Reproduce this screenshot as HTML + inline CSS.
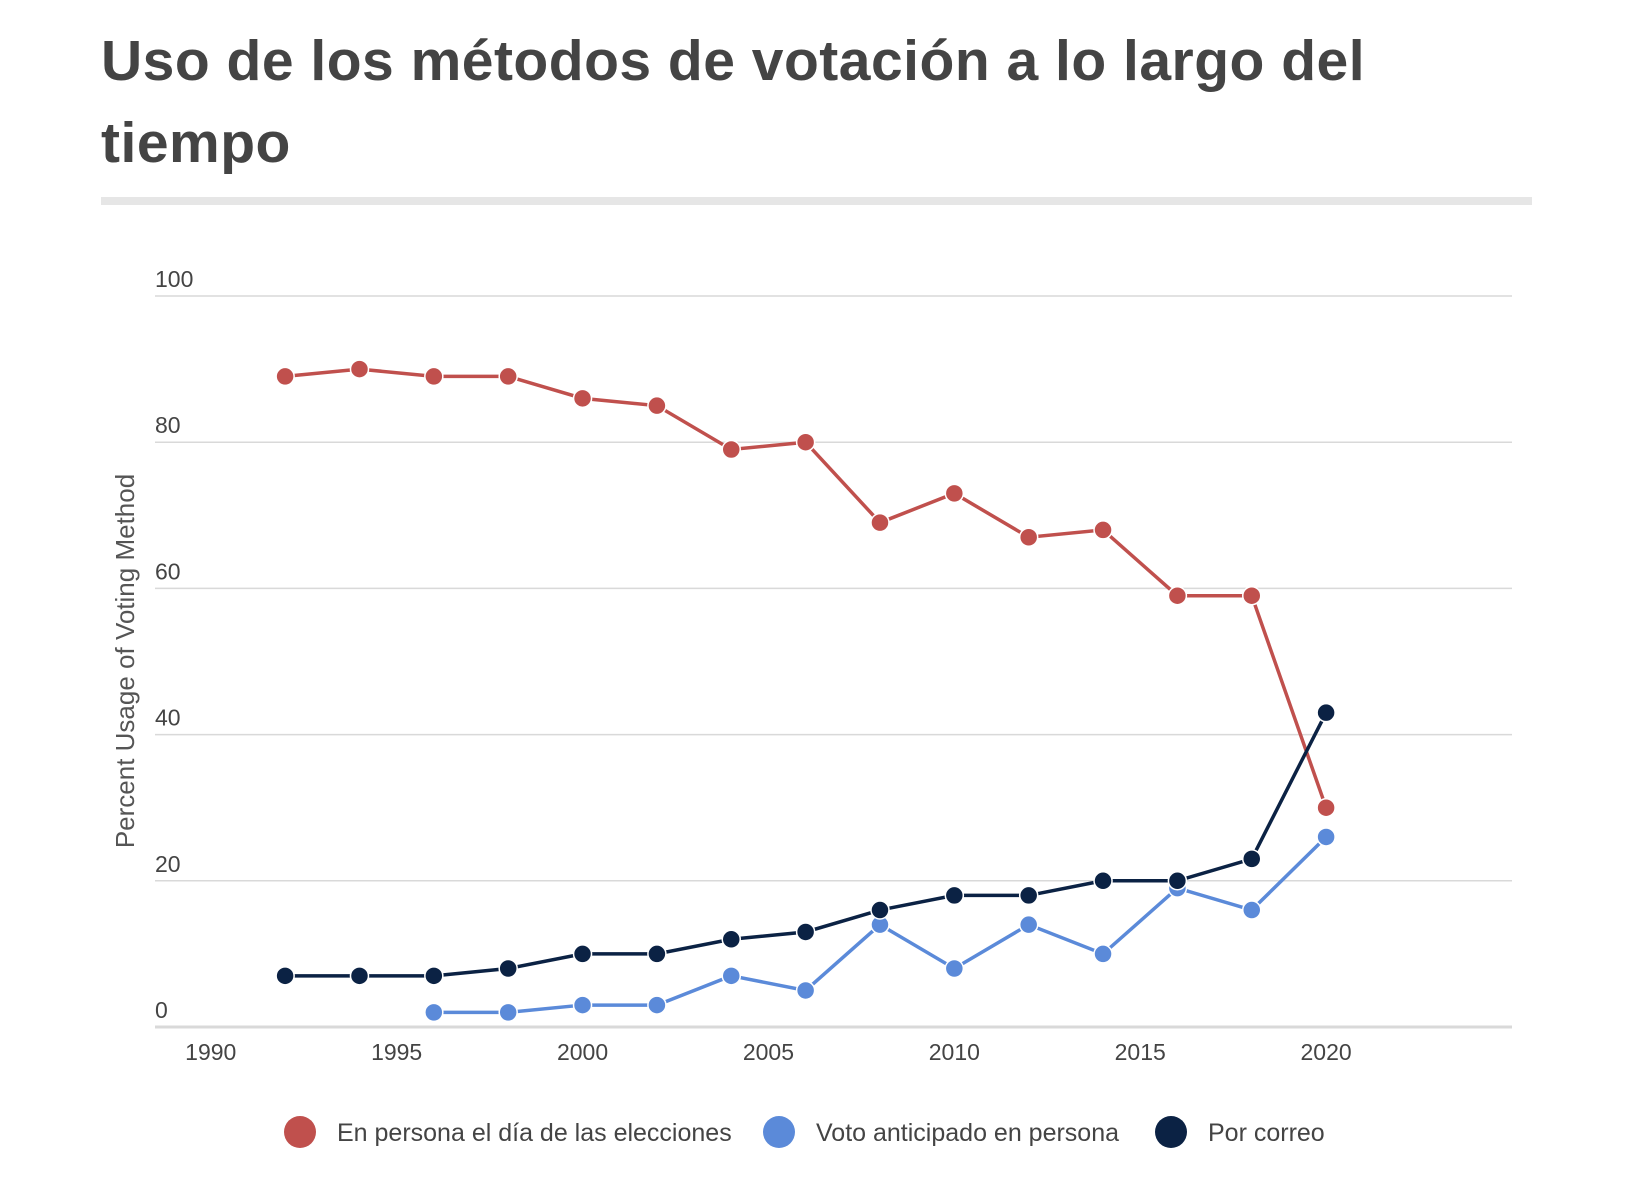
<!DOCTYPE html>
<html><head><meta charset="utf-8"><style>
body{margin:0;background:#fff;width:1640px;height:1200px;overflow:hidden;font-family:"Liberation Sans",sans-serif}
#title{position:absolute;left:101px;top:20px;width:1480px;font-size:57px;font-weight:bold;line-height:82px;color:#444;letter-spacing:0.5px}
#rule{position:absolute;left:101px;top:197px;width:1431px;height:8px;background:#e6e6e6}
svg{position:absolute;left:0;top:0}
</style></head><body>
<div id="title">Uso de los métodos de votación a lo largo del<br>tiempo</div>
<div id="rule"></div>
<svg id="chart" width="1640" height="1200"></svg>
<script>
const years=[1992,1994,1996,1998,2000,2002,2004,2006,2008,2010,2012,2014,2016,2018,2020];
const inPerson=[89,90,89,89,86,85,79,80,69,73,67,68,59,59,30];
const earlyYears=[1996,1998,2000,2002,2004,2006,2008,2010,2012,2014,2016,2018,2020];
const early=[2,2,3,3,7,5,14,8,14,10,19,16,26];
const mail=[7,7,7,8,10,10,12,13,16,18,18,20,20,23,43];
const yTicks=[0,20,40,60,80,100];
const xTicks=[1990,1995,2000,2005,2010,2015,2020];
const legendLabels=["En persona el día de las elecciones","Voto anticipado en persona","Por correo"];
const colors=["#c0504d","#5b8ad9","#0b2244"];
const NS="http://www.w3.org/2000/svg";
const svg=document.getElementById('chart');
const L=155,R=1512,T=296,B=1027;
const x=v=>L+(v-1988.5)/(2025-1988.5)*(R-L);
const y=v=>B-v/100*(B-T);
function mk(tag,at,parent){const e=document.createElementNS(NS,tag);for(const k in at)e.setAttribute(k,at[k]);(parent||svg).appendChild(e);return e;}
yTicks.forEach(t=>{
  const g=mk('line',{x1:L,x2:R,y1:y(t),y2:y(t),stroke:'#d9d9d9','stroke-width':t===0?3:1.5});
  
  
  const tx=mk('text',{x:L,y:y(t)-9,'font-size':23,fill:'#444'});tx.textContent=t;
  
  
});
xTicks.forEach(t=>{
  const tx=mk('text',{x:x(t),y:1060,'font-size':23,fill:'#444','text-anchor':'middle'});tx.textContent=t;
  
  
});
const yt=mk('text',{x:0,y:0,'font-size':26,fill:'#555','text-anchor':'middle',transform:'translate(134,661) rotate(-90)'});
yt.textContent='Percent Usage of Voting Method';


function series(xs,vs,c,name){
  const p=mk('polyline',{points:xs.map((a,i)=>x(a)+','+y(vs[i])).join(' '),fill:'none',stroke:c,'stroke-width':3.5});
  
  
  xs.forEach((a,i)=>{
    const d=mk('circle',{cx:x(a),cy:y(vs[i]),r:9,fill:c,stroke:'#fff','stroke-width':1.5});
    
    
  });
}
series(years,inPerson,colors[0],'in-person');
series(earlyYears,early,colors[1],'early');
series(years,mail,colors[2],'mail');
const lx=[300,779,1171];
legendLabels.forEach((s,i)=>{
  const c=mk('circle',{cx:lx[i],cy:1132,r:16,fill:colors[i]});
  
  
  const t=mk('text',{x:lx[i]+37,y:1141,'font-size':25,fill:'#444'});t.textContent=s;
  
  
});
</script>
</body></html>
